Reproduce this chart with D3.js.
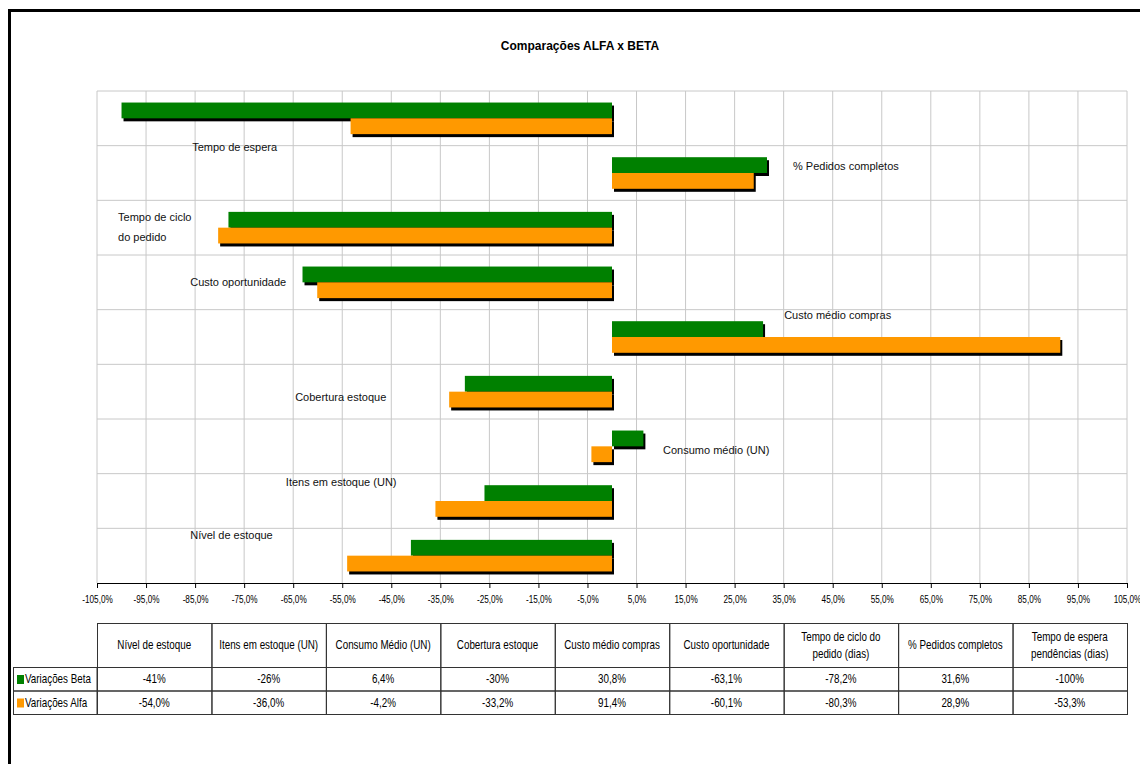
<!DOCTYPE html>
<html>
<head>
<meta charset="utf-8">
<script src="https://cdn.jsdelivr.net/npm/d3@7"></script>
<style>
  body { margin: 0; background: #fff; }
</style>
</head>
<body>
<div id="canvas"></div>
<script>
// categories in table order (bottom to top in the chart)
var categories = ['Nível de estoque', 'Itens em estoque (UN)', 'Consumo médio (UN)', 'Cobertura estoque',
    'Custo médio compras', 'Custo oportunidade', 'Tempo de ciclo|do pedido', '% Pedidos completos', 'Tempo de espera'];
var tableHeaders = ['Nível de estoque', 'Itens em estoque (UN)', 'Consumo Médio (UN)', 'Cobertura estoque',
    'Custo médio compras', 'Custo oportunidade', 'Tempo de ciclo do|pedido (dias)', '% Pedidos completos', 'Tempo de espera|pendências (dias)'];
var seriesNames = ['Variações Beta', 'Variações Alfa'];
var betaValues = [-41, -26, 6.4, -30, 30.8, -63.1, -78.2, 31.6, -100];
var alfaValues = [-54.0, -36.0, -4.2, -33.2, 91.4, -60.1, -80.3, 28.9, -53.3];
var xTicks = [-105, -95, -85, -75, -65, -55, -45, -35, -25, -15, -5, 5, 15, 25, 35, 45, 55, 65, 75, 85, 95, 105];

// where the category labels sit: [x in %, offset from band top in px]
var labelPlaces = [[-86, 7], [-66.5, 8], [10.4, 31], [-64.6, 33], [35.1, 5], [-86, 27], [-100.7, 16.5], [36.9, 20], [-85.6, 55.7]];

var colors = ['#008000', '#ff9900'];
var squeeze = 'scale(0.82,1)'; // no narrow font installed, so squeeze Liberation Sans

var locale = d3.formatLocale({decimal: ',', thousands: '.', grouping: [3], currency: ['', ''], minus: '-'});
var tickFmt = locale.format('.1f');
var cellFmt = [locale.format('.1~f'), locale.format('.1f')];

function draw() {
    var W = 1140, H = 764;
    var mLeft = 97, mRight = 1127, mTop = 91, mBottom = 583;

    var svg = d3.select('#canvas').append('svg')
        .attr('width', W)
        .attr('height', H)
        .style('font-family', '"Liberation Sans", Arial, sans-serif');

    // outer frame
    svg.append('rect')
        .attr('x', 9.5).attr('y', 10.5)
        .attr('width', W + 20).attr('height', H + 20)
        .attr('fill', '#fff')
        .attr('stroke', '#000')
        .attr('stroke-width', 3);

    svg.append('text')
        .attr('x', 580).attr('y', 50)
        .attr('text-anchor', 'middle')
        .attr('font-size', 12)
        .attr('font-weight', 'bold')
        .text('Comparações ALFA x BETA');

    var x = d3.scaleLinear().domain([-105, 105]).range([mLeft, mRight]);
    var y = d3.scaleBand().domain(categories.slice().reverse()).range([mTop, mBottom]);
    var ySeries = d3.scaleBand().domain([0, 1]).range([0, y.bandwidth()]).paddingOuter(0.73);

    // gridlines
    var grid = svg.append('g').attr('stroke', '#c8c8c8').attr('stroke-width', 1);
    grid.selectAll('.vg')
        .data(xTicks)
        .enter()
        .append('line')
        .attr('x1', function(d) { return x(d); })
        .attr('x2', function(d) { return x(d); })
        .attr('y1', mTop).attr('y2', mBottom);
    grid.selectAll('.hg')
        .data(categories)
        .enter()
        .append('line')
        .attr('x1', mLeft).attr('x2', mRight)
        .attr('y1', function(d) { return y(d); })
        .attr('y2', function(d) { return y(d); });

    var rows = categories.map(function(c, i) {
        return {cat: c, vals: [betaValues[i], alfaValues[i]], place: labelPlaces[i]};
    });

    var groups = svg.selectAll('.cat')
        .data(rows)
        .enter()
        .append('g')
        .attr('class', 'cat')
        .attr('transform', function(d) { return 'translate(0,' + y(d.cat) + ')'; });

    // shadows first, then bars, so the orange bar covers the green shadow
    [0, 1].forEach(function(s) {
        groups.each(function(d) {
            var g = d3.select(this);
            var v = d.vals[s];
            var x0 = x(Math.min(0, v)), w = Math.abs(x(v) - x(0));
            g.append('rect')
                .attr('x', x0 + 2).attr('y', ySeries(s) + 3)
                .attr('width', w).attr('height', ySeries.bandwidth())
                .attr('fill', '#000');
            g.append('rect')
                .attr('x', x0).attr('y', ySeries(s))
                .attr('width', w).attr('height', ySeries.bandwidth())
                .attr('fill', colors[s]);
        });
    });

    groups.each(function(d) {
        var g = d3.select(this);
        d.cat.split('|').forEach(function(t, k) {
            g.append('text')
                .attr('x', x(d.place[0]))
                .attr('y', d.place[1] + k * 20)
                .attr('dy', '0.35em')
                .attr('font-size', 11)
                .attr('fill', '#111')
                .text(t);
        });
    });

    // x axis
    var axis = svg.append('g')
        .attr('transform', 'translate(0,' + mBottom + ')')
        .call(d3.axisBottom(x)
            .tickValues(xTicks)
            .tickSize(5)
            .tickSizeOuter(0)
            .tickPadding(8)
            .tickFormat(function(d) { return tickFmt(d) + '%'; }));
    axis.select('.domain').attr('stroke', '#000');
    axis.selectAll('.tick line').attr('stroke', '#000');
    axis.selectAll('.tick text')
        .attr('font-family', '"Liberation Sans", Arial, sans-serif')
        .attr('font-size', 10)
        .attr('fill', '#000')
        .attr('transform', squeeze);

    // data table
    var col = d3.scaleBand().domain(d3.range(tableHeaders.length)).range([mLeft, mRight]);
    var tTop = 623, tHead = 667, rowH = 23.5;
    var table = svg.append('g').attr('font-size', 12);

    function cellText(cx, cy, str) {
        var parts = str.split('|');
        var t = table.append('g')
            .attr('transform', 'translate(' + cx + ',' + cy + ')')
            .append('text')
            .attr('text-anchor', 'middle')
            .attr('transform', squeeze);
        parts.forEach(function(p, k) {
            t.append('tspan')
                .attr('x', 0)
                .attr('y', (k - (parts.length - 1) / 2) * 17)
                .attr('dy', '0.35em')
                .text(p);
        });
        return t;
    }

    table.selectAll('.hcell')
        .data(tableHeaders)
        .enter()
        .append('rect')
        .attr('x', function(d, i) { return col(i) + 0.5; })
        .attr('y', tTop + 0.5)
        .attr('width', col.bandwidth())
        .attr('height', tHead - tTop)
        .attr('fill', 'none')
        .attr('stroke', '#333');

    tableHeaders.forEach(function(h, i) {
        cellText(col(i) + col.bandwidth() / 2, (tTop + tHead) / 2, h);
    });

    [betaValues, alfaValues].forEach(function(vals, s) {
        var ry = tHead + s * rowH;
        table.append('rect')
            .attr('x', 13.5).attr('y', ry + 0.5)
            .attr('width', mLeft - 13.5).attr('height', rowH)
            .attr('fill', 'none').attr('stroke', '#333');
        table.append('rect')
            .attr('x', 17).attr('y', ry + 8)
            .attr('width', 7).attr('height', 9)
            .attr('fill', colors[s]);
        cellText(25, ry + rowH / 2 + 0.5, seriesNames[s]).attr('text-anchor', 'start');
        table.selectAll('.c' + s)
            .data(vals)
            .enter()
            .append('rect')
            .attr('x', function(d, i) { return col(i) + 0.5; })
            .attr('y', ry + 0.5)
            .attr('width', col.bandwidth())
            .attr('height', rowH)
            .attr('fill', 'none')
            .attr('stroke', '#333');
        vals.forEach(function(v, i) {
            cellText(col(i) + col.bandwidth() / 2, ry + rowH / 2 + 0.5, cellFmt[s](v) + '%');
        });
    });
}

draw();
</script>
</body>
</html>
